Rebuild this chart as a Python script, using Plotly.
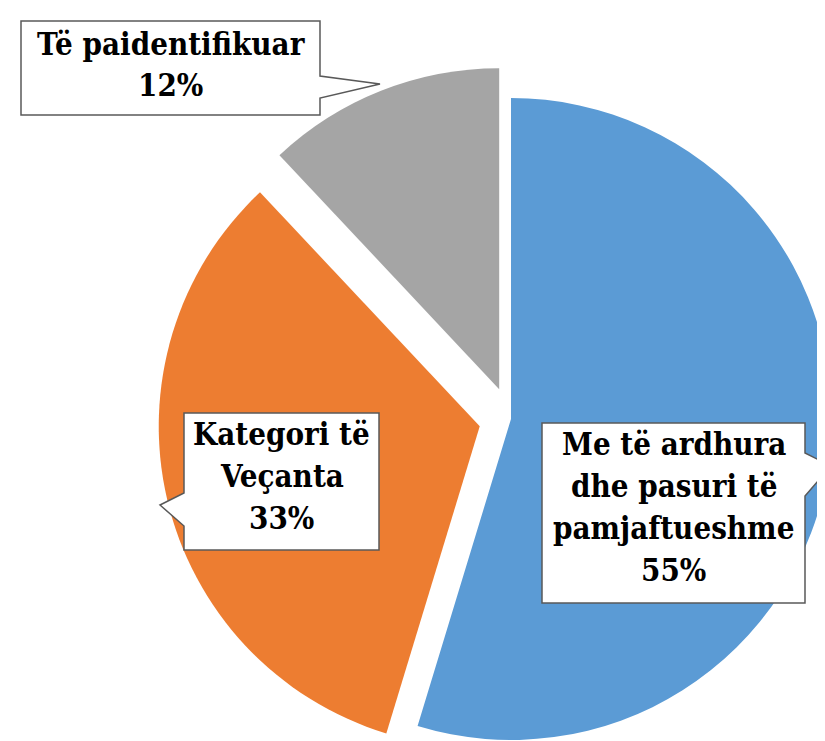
import math
import plotly.graph_objects as go

# ---- data ----
categories = ["Me të ardhura dhe pasuri të pamjaftueshme", "Kategori të Veçanta", "Të paidentifikuar"]
values = [54.7, 33.3, 12.0]
label_lines = [["Me të ardhura", "dhe pasuri të", "pamjaftueshme"],
               ["Kategori të", "Veçanta"],
               ["Të paidentifikuar"]]
colors = ["#5B9BD5", "#ED7D31", "#A5A5A5"]
pulls = [0.0, 0.1, 0.1]

FONT = "DejaVu Serif Condensed, DejaVu Serif"
FONT_SIZE = 31

# ---- layout geometry (pixels) ----
W, H = 825, 741
CX, CY, R = 503, 411, 321

def fx(x):
    return x / W

def fy(y):
    return 1 - y / H

fig = go.Figure()
total = sum(values)
start = 0.0
for i, v in enumerate(values):
    mid = start + v / total * 180.0
    start += v / total * 360.0
    a = math.radians(mid)
    cx = CX + pulls[i] * R * math.sin(a)
    cy = CY - pulls[i] * R * math.cos(a)
    dom_x = [max(0.0, fx(cx - R)), min(1.0, fx(cx + R))]
    dom_y = [max(0.0, fy(cy + R)), min(1.0, fy(cy - R))]
    fig.add_trace(go.Pie(
        labels=categories, values=values, sort=False, direction="clockwise", rotation=0,
        marker=dict(colors=[c if j == i else "rgba(0,0,0,0)" for j, c in enumerate(colors)],
                    line=dict(width=0)),
        textinfo="none", hoverinfo="label+percent", showlegend=False,
        domain=dict(x=dom_x, y=dom_y),
    ))

# ---- callout boxes (box + pointer), pixel coords ----
callouts = [
    dict(box=(534, 415, 797, 595), path=[(534, 415), (797, 415), (797, 445), (823, 458), (797, 488), (797, 595), (534, 595)],
         base=453, step=42),
    dict(box=(176, 405, 371, 542), path=[(176, 405), (371, 405), (371, 542), (176, 542), (176, 518), (152, 497), (176, 485)],
         base=443, step=42),
    dict(box=(13, 13, 312, 107), path=[(13, 13), (312, 13), (312, 68), (372, 76), (312, 90), (312, 107), (13, 107)],
         base=53, step=41),
]

shapes = []
annotations = []
for i, c in enumerate(callouts):
    p = "M " + " L ".join(f"{fx(x):.5f},{fy(y):.5f}" for x, y in c["path"]) + " Z"
    shapes.append(dict(type="path", path=p, xref="paper", yref="paper",
                       fillcolor="white", line=dict(color="#595959", width=1.5), layer="above"))
    pct = f"{round(values[i] / total * 100)}%"
    lines = label_lines[i] + [pct]
    x0, y0, x1, y1 = c["box"]
    xc = (x0 + x1) / 2
    for k, t in enumerate(lines):
        baseline = c["base"] + k * c["step"]
        annotations.append(dict(
            text=f"<b>{t}</b>", x=fx(xc), y=fy(baseline - 17), xref="paper", yref="paper",
            xanchor="center", yanchor="middle", showarrow=False,
            font=dict(family=FONT, size=FONT_SIZE, color="black"),
        ))

fig.update_layout(
    width=W, height=H,
    margin=dict(l=0, r=0, t=0, b=0),
    paper_bgcolor="white", plot_bgcolor="white",
    shapes=shapes, annotations=annotations,
    showlegend=False,
)

fig.write_html("out.html")
